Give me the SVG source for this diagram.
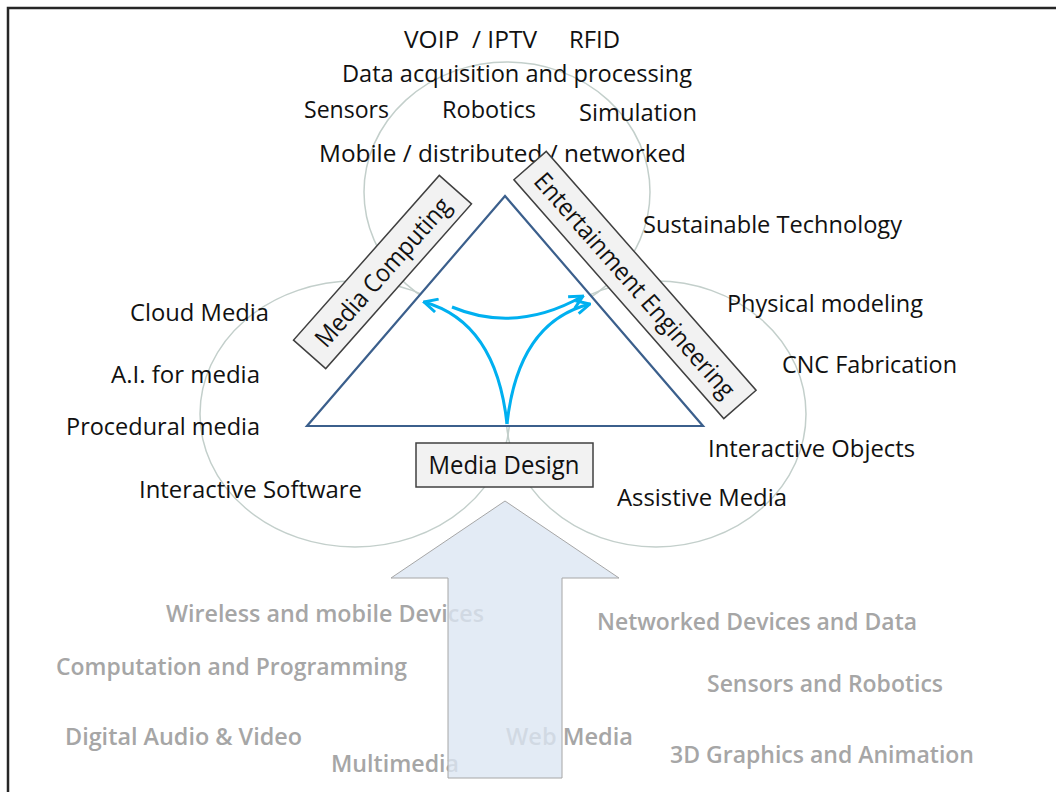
<svg xmlns="http://www.w3.org/2000/svg" width="1056" height="792" viewBox="0 0 1056 792">
<style>
  .t { font-family: "Open Sans", "Noto Sans", "Liberation Sans", sans-serif; font-size: 24.5px; fill: #111; }
  .b { font-family: "Open Sans", "Noto Sans", "Liberation Sans", sans-serif; font-size: 25px; fill: #111; }
  .g { font-family: "Open Sans", "Noto Sans", "Liberation Sans", sans-serif; font-size: 24px; font-weight: 600; fill: #a6a6a6; }
  .circ { fill: none; stroke: #c3cfcb; stroke-width: 1.5; }
  .box { fill: #f2f2f2; stroke: #404040; stroke-width: 1.5; }
  .flow { fill: none; stroke: #00b0f0; stroke-width: 3; }
</style>
<defs>
  <marker id="ah" viewBox="0 0 12 12" refX="11" refY="6" markerWidth="16" markerHeight="16" markerUnits="userSpaceOnUse" orient="auto">
    <path d="M1,1 L11,6 L1,11" fill="none" stroke="#00b0f0" stroke-width="2.2" stroke-linejoin="miter"/>
  </marker>
</defs>
<rect x="0" y="0" width="1056" height="792" fill="#fff"/>
<rect x="8" y="8" width="1070" height="810" fill="none" stroke="#262626" stroke-width="2.5"/>

<g id="circles">
  <ellipse class="circ" cx="507" cy="192" rx="143" ry="130"/>
  <ellipse class="circ" cx="355" cy="414" rx="155" ry="133"/>
  <ellipse class="circ" cx="656" cy="414" rx="150" ry="133"/>
</g>

<g id="labels-black">
  <text class="t" x="404" y="48" textLength="133" lengthAdjust="spacingAndGlyphs" xml:space="preserve">VOIP  / IPTV</text>
  <text class="t" x="569" y="48" textLength="51" lengthAdjust="spacingAndGlyphs">RFID</text>
  <text class="t" x="342" y="82" textLength="350" lengthAdjust="spacingAndGlyphs">Data acquisition and processing</text>
  <text class="t" x="304" y="118" textLength="85" lengthAdjust="spacingAndGlyphs">Sensors</text>
  <text class="t" x="442" y="118" textLength="94" lengthAdjust="spacingAndGlyphs">Robotics</text>
  <text class="t" x="579" y="121" textLength="118" lengthAdjust="spacingAndGlyphs">Simulation</text>
  <text class="t" x="319" y="162" textLength="367" lengthAdjust="spacingAndGlyphs">Mobile / distributed / networked</text>
  <text class="t" x="643" y="233" textLength="259" lengthAdjust="spacingAndGlyphs">Sustainable Technology</text>
  <text class="t" x="727" y="312" textLength="196" lengthAdjust="spacingAndGlyphs">Physical modeling</text>
  <text class="t" x="782" y="373" textLength="175" lengthAdjust="spacingAndGlyphs">CNC Fabrication</text>
  <text class="t" x="708" y="457" textLength="207" lengthAdjust="spacingAndGlyphs">Interactive Objects</text>
  <text class="t" x="617" y="506" textLength="170" lengthAdjust="spacingAndGlyphs">Assistive Media</text>
  <text class="t" x="130" y="321" textLength="139" lengthAdjust="spacingAndGlyphs">Cloud Media</text>
  <text class="t" x="111" y="383" textLength="149" lengthAdjust="spacingAndGlyphs">A.I. for media</text>
  <text class="t" x="66" y="435" textLength="194" lengthAdjust="spacingAndGlyphs">Procedural media</text>
  <text class="t" x="139" y="498" textLength="223" lengthAdjust="spacingAndGlyphs">Interactive Software</text>
</g>

<g id="triangle">
  <polygon points="505,196 307,426 703,426" fill="#fff" stroke="#3b5f8c" stroke-width="2.2" stroke-linejoin="miter"/>
</g>

<g id="node-media-computing" transform="translate(382.5,272) rotate(-48.5)">
  <rect class="box" x="-110" y="-21.5" width="220" height="43"/>
  <text class="b" x="0" y="9" text-anchor="middle" textLength="190" lengthAdjust="spacingAndGlyphs">Media Computing</text>
</g>

<g id="node-entertainment-engineering" transform="translate(635,285) rotate(48.7)">
  <rect class="box" x="-159" y="-21.5" width="318" height="43"/>
  <text class="b" x="0" y="9" text-anchor="middle" textLength="290" lengthAdjust="spacingAndGlyphs">Entertainment Engineering</text>
</g>

<g id="node-media-design">
  <rect class="box" x="416" y="443" width="177" height="44"/>
  <text class="b" x="504" y="474" text-anchor="middle" textLength="151" lengthAdjust="spacingAndGlyphs">Media Design</text>
</g>

<g id="connectors">
  <path class="flow" d="M507,424 Q496,322 424,302" marker-end="url(#ah)"/>
  <path class="flow" d="M507,424 Q518,322 590,304" marker-end="url(#ah)"/>
  <path class="flow" d="M452,307 Q516,334 583,296" marker-end="url(#ah)"/>
</g>

<g id="labels-gray">
  <text class="g" x="166" y="622" textLength="318" lengthAdjust="spacingAndGlyphs">Wireless and mobile Devices</text>
  <text class="g" x="56" y="675" textLength="351" lengthAdjust="spacingAndGlyphs">Computation and Programming</text>
  <text class="g" x="65" y="745" textLength="237" lengthAdjust="spacingAndGlyphs">Digital Audio &amp; Video</text>
  <text class="g" x="331" y="772" textLength="128" lengthAdjust="spacingAndGlyphs">Multimedia</text>
  <text class="g" x="506" y="745" textLength="127" lengthAdjust="spacingAndGlyphs">Web Media</text>
  <text class="g" x="597" y="630" textLength="320" lengthAdjust="spacingAndGlyphs">Networked Devices and Data</text>
  <text class="g" x="707" y="692" textLength="236" lengthAdjust="spacingAndGlyphs">Sensors and Robotics</text>
  <text class="g" x="670" y="763" textLength="304" lengthAdjust="spacingAndGlyphs">3D Graphics and Animation</text>
</g>

<g id="big-arrow">
  <polygon points="505,501 619,578 562,578 562,778 448,778 448,578 391,578" fill="#dce6f2" fill-opacity="0.8" stroke="#a6a6a6" stroke-width="1"/>
</g>
</svg>
